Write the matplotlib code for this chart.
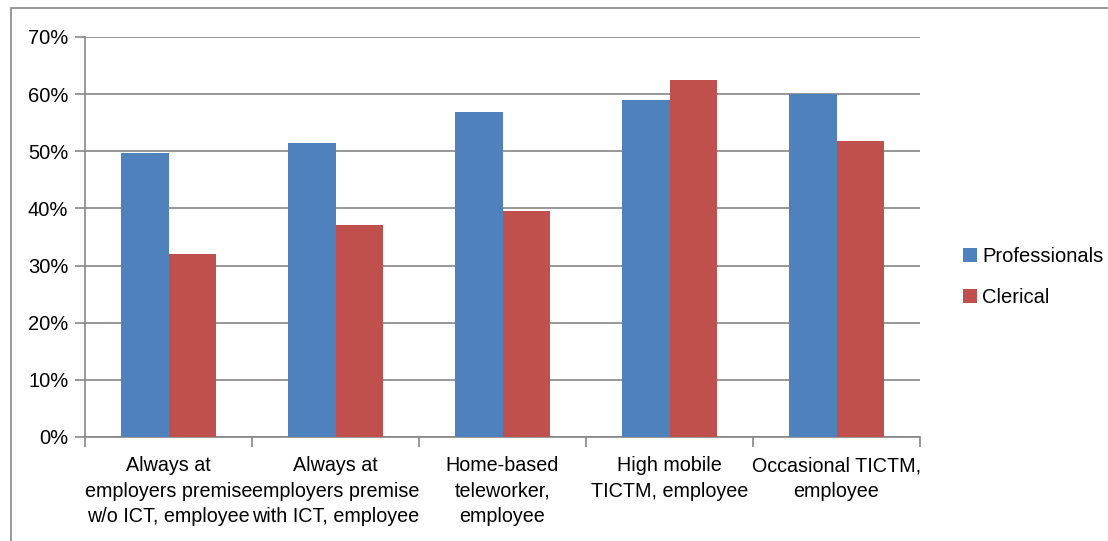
import matplotlib
matplotlib.use('Agg')
import matplotlib.pyplot as plt
from matplotlib.patches import Rectangle
from matplotlib.ticker import FixedLocator, PercentFormatter
import numpy as np

categories = [
  'Always at\nemployers premise\nw/o ICT, employee',
  'Always at\nemployers premise\nwith ICT, employee',
  'Home-based\nteleworker,\nemployee',
  'High mobile\nTICTM, employee',
  'Occasional TICTM,\nemployee',
]
series_names = ['Professionals', 'Clerical']
professionals = [49.7, 51.5, 56.9, 59.0, 60.0]
clerical = [32.1, 37.1, 39.5, 62.5, 51.8]
colors = ['#4F81BD', '#C0504D']
grey = '#868686'

plt.rcParams['font.family'] = ['Liberation Sans', 'DejaVu Sans']

fig = plt.figure(figsize=(11.08, 5.41), dpi=100)
# outer chart frame (partly cropped in reference)
fig.patches.append(Rectangle((11 / 1108, -0.05), 1.2, 1 - 8 / 541 + 0.05,
  transform=fig.transFigure, fill=False, edgecolor=grey, lw=1.2))

ax = fig.add_axes([85 / 1108, 1 - 437 / 541, 835 / 1108, 400 / 541])

x = np.arange(len(categories))
w = 0.287
ax.bar(x - w / 2, professionals, w, color=colors[0], label=series_names[0], zorder=3)
ax.bar(x + w / 2, clerical, w, color=colors[1], label=series_names[1], zorder=3)

ax.set_xlim(-0.5, len(categories) - 0.5)
ax.set_ylim(0, 70)
ax.yaxis.set_major_locator(FixedLocator(np.arange(0, 71, 10)))
ax.yaxis.set_major_formatter(PercentFormatter(decimals=0))
ax.grid(axis='y', color=grey, lw=1.2, zorder=0)

ax.set_xticks(x)
ax.set_xticklabels(categories, fontsize=14.2, linespacing=1.42)
ax.tick_params(axis='x', length=0, pad=14)
ax.set_xticks(np.arange(-0.5, len(categories)), minor=True)
ax.tick_params(axis='x', which='minor', length=7, width=1.2, color=grey, direction='out')
ax.tick_params(axis='y', length=7, width=1.2, color=grey, labelsize=14.5, pad=5)

for s in ['top', 'right']:
  ax.spines[s].set_visible(False)
for s in ['left', 'bottom']:
  ax.spines[s].set_color(grey)
  ax.spines[s].set_linewidth(1.2)

leg = ax.legend(loc='center left', bbox_to_anchor=(1.03, 0.4), frameon=False,
  fontsize=14.5, handlelength=0.7, handleheight=0.7, handletextpad=0.25, labelspacing=1.1)

fig.savefig('out.png', dpi=100)
